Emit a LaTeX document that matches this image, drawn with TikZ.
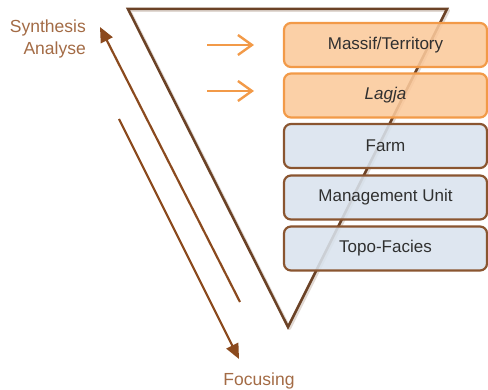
\documentclass[tikz,border=0pt]{standalone}
\usepackage{fontspec}
\setmainfont{Liberation Sans}
\usetikzlibrary{arrows.meta}
\definecolor{brownline}{HTML}{6B4226}
\definecolor{arrowbrown}{HTML}{8B4A1E}
\definecolor{labelbrown}{HTML}{A36B45}
\definecolor{orangefill}{HTML}{FBC99B}
\definecolor{orangeline}{HTML}{F29A48}
\definecolor{bluefill}{HTML}{D9E3EE}
\definecolor{boxborder}{HTML}{8A5530}
\definecolor{txtgray}{HTML}{303030}
\tikzset{
  levelbox/.style={draw, line width=2.2pt, rounded corners=7pt, minimum width=203pt, minimum height=44pt, inner sep=0pt, font=\fontsize{17}{19}\selectfont, text=txtgray, fill opacity=0.88, text opacity=1},
  orangebox/.style={levelbox, fill=orangefill, draw=orangeline},
  bluebox/.style={levelbox, fill=bluefill, draw=boxborder},
  orangearrow/.style={draw=orangeline, line width=2.4pt, -{Straight Barb[length=14pt,width=20pt,line width=2.4pt]}},
  brownarrow/.style={draw=arrowbrown, line width=2.2pt, -{Triangle[length=15pt,width=13pt]}},
  sidelabel/.style={text=labelbrown, font=\fontsize{17.5}{21.5}\selectfont, inner sep=0pt}
}
\begin{document}
\begin{tikzpicture}[x=1pt,y=-1pt]
\useasboundingbox (0,0) rectangle (488,390);
% funnel triangle
\coordinate (tl) at (128,9);
\coordinate (tr) at (447,9);
\coordinate (ap) at (288,327);
\draw[brownline!40, line width=3pt, opacity=0.5, line join=round] ([shift={(1.5,1.5)}]tl) -- ([shift={(1.5,1.5)}]tr) -- ([shift={(1.5,1.5)}]ap) -- cycle;
\draw[brownline, line width=2.5pt, line join=miter] (tl) -- (tr) -- (ap) -- cycle;
% level boxes
\node[orangebox] (b1) at (385.5,45) {Massif/Territory};
\node[orangebox] (b2) at (385.5,95.5) {\itshape Lagja};
\node[bluebox] (b3) at (385.5,146) {Farm};
\node[bluebox] (b4) at (385.5,197.5) {Management Unit};
\node[bluebox] (b5) at (385.5,248.5) {Topo-Facies};
% orange arrows
\coordinate (a1s) at (207,45);
\coordinate (a1e) at (254,45);
\coordinate (a2s) at (207,91);
\coordinate (a2e) at (254,91);
\draw[orangearrow] (a1s) -- (a1e);
\draw[orangearrow] (a2s) -- (a2e);
% side arrows
\coordinate (ups) at (240,302);
\coordinate (upe) at (100,27);
\coordinate (dns) at (119,119);
\coordinate (dne) at (239,359);
\draw[brownarrow] (ups) -- (upe);
\draw[brownarrow] (dns) -- (dne);
% labels
\node[sidelabel, anchor=north east, align=right] (syn) at (86,20) {Synthesis\\Analyse};
\node[sidelabel] (foc) at (259,381) {Focusing};
\end{tikzpicture}
\end{document}
